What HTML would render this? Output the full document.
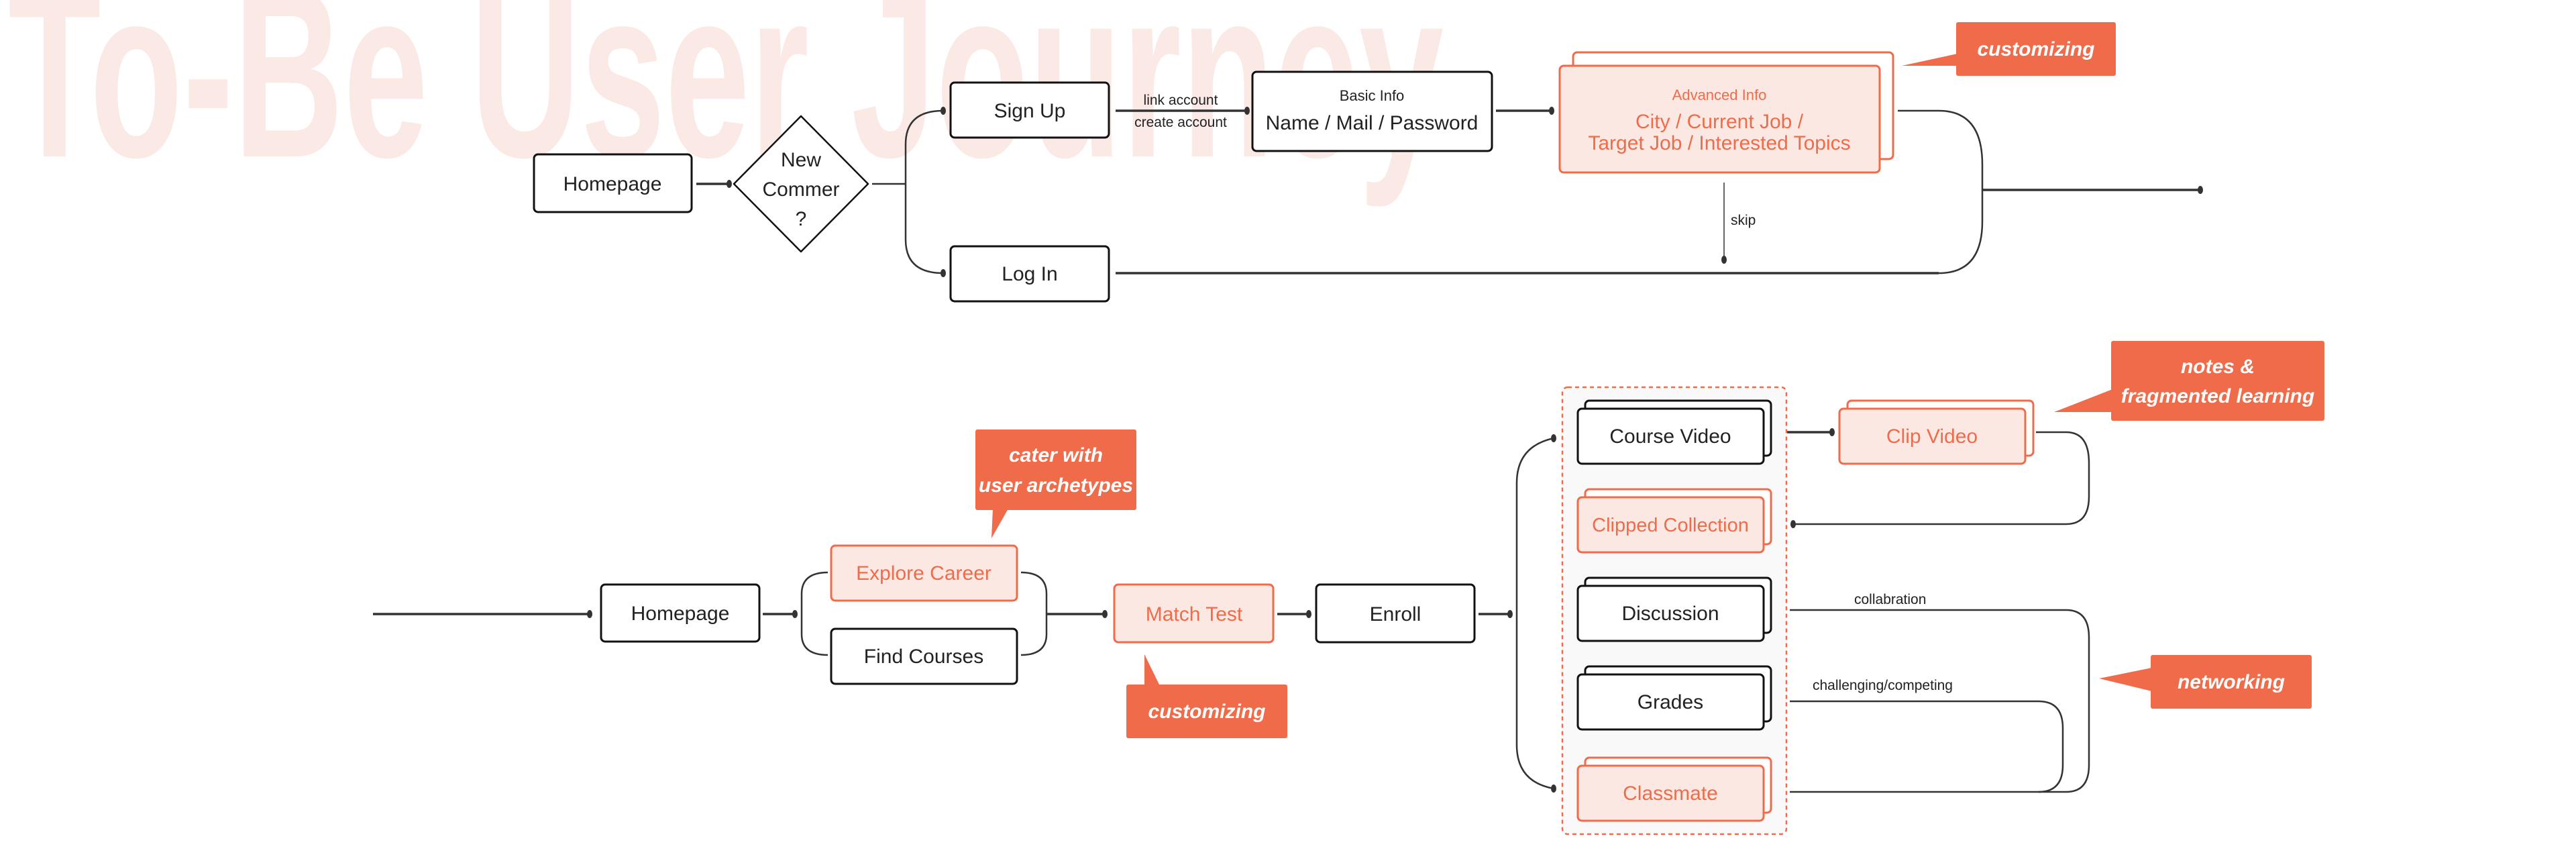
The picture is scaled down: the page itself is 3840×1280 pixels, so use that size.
<!DOCTYPE html>
<html><head><meta charset="utf-8"><style>
html,body{margin:0;padding:0;background:#fff;}
svg{display:block}
text{font-family:"Liberation Sans",sans-serif;}
</style></head><body>
<svg width="3840" height="1280" viewBox="0 0 3840 1280" xmlns="http://www.w3.org/2000/svg">
<text x="12" y="233" font-size="360" font-weight="bold" fill="#fbe9e5" textLength="2140" lengthAdjust="spacingAndGlyphs">To-Be User Journey</text>

<g fill="none" stroke="#333" stroke-width="3.5">
<line x1="1038" y1="274" x2="1087" y2="274"/>
<path d="M1300 274 H1350 M1350 274 V215 Q1350 165 1406 165 M1350 274 V357 Q1350 407 1406 407" stroke-width="2.5"/>
<line x1="1663" y1="165" x2="1859" y2="165"/>
<line x1="2230" y1="165" x2="2313" y2="165"/>
<path d="M2829 165 H2890 Q2955 165 2955 245 V330 Q2955 407 2890 407" stroke-width="2.5"/>
<line x1="1663" y1="407" x2="2890" y2="407"/>
<line x1="2955" y1="283" x2="3280" y2="283"/>
<line x1="2570" y1="272" x2="2570" y2="387" stroke-width="1.5"/>
<line x1="556" y1="915" x2="879" y2="915"/>
<line x1="1137" y1="915" x2="1185" y2="915"/>
<path d="M1195 915 V885 Q1195 853 1234 853 M1195 915 V945 Q1195 976 1234 976" stroke-width="2.5"/>
<path d="M1522 853 Q1560 853 1560 885 V945 Q1560 976 1522 976" stroke-width="2.5"/>
<line x1="1560" y1="915" x2="1647" y2="915"/>
<line x1="1904" y1="915" x2="1951" y2="915"/>
<line x1="2204" y1="915" x2="2251" y2="915"/>
<path d="M2316 653 Q2261 665 2261 720 V1110 Q2261 1165 2316 1175" stroke-width="2.5"/>
<line x1="2664" y1="644" x2="2731" y2="644"/>
<path d="M3035 644 H3080 Q3114 644 3114 690 V740 Q3114 781 3080 781 H2673" stroke-width="2.5"/>
<path d="M2668 909 H3080 Q3114 909 3114 950 V1140 Q3114 1180 3080 1180 H2668" stroke-width="2.5"/>
<path d="M2668 1045 H3039 Q3075 1045 3075 1085 V1140 Q3075 1180 3039 1180" stroke-width="2.5"/>
</g>
<g fill="#333">
<ellipse cx="1087" cy="274" rx="4" ry="6"/>
<ellipse cx="1406" cy="165" rx="4" ry="6"/><ellipse cx="1406" cy="407" rx="4" ry="6"/>
<ellipse cx="1859" cy="165" rx="4" ry="6"/><ellipse cx="2313" cy="165" rx="4" ry="6"/>
<ellipse cx="3280" cy="283" rx="4" ry="6"/><ellipse cx="2570" cy="387" rx="4" ry="6"/>
<ellipse cx="879" cy="915" rx="4" ry="6"/><ellipse cx="1185" cy="915" rx="4" ry="6"/>
<ellipse cx="1647" cy="915" rx="4" ry="6"/><ellipse cx="1951" cy="915" rx="4" ry="6"/>
<ellipse cx="2251" cy="915" rx="4" ry="6"/>
<ellipse cx="2316" cy="653" rx="4" ry="6"/><ellipse cx="2316" cy="1175" rx="4" ry="6"/>
<ellipse cx="2731" cy="644" rx="4" ry="6"/><ellipse cx="2673" cy="781" rx="4" ry="6"/>
</g>

<g fill="#fff" stroke="#111" stroke-width="3">
<rect x="796" y="230" width="235" height="86" rx="6"/>
<path d="M1194 173 L1294 274 L1194 375 L1094 274 Z" stroke-width="2.5" stroke-linejoin="round"/>
<rect x="1417" y="123" width="236" height="82" rx="6"/>
<rect x="1417" y="367" width="236" height="82" rx="6"/>
<rect x="1867" y="107" width="357" height="118" rx="6"/>
</g>
<g fill="#fce8e3" stroke="#f06b4a" stroke-width="3">
<rect x="2345" y="78" width="477" height="159" rx="6" fill="#fff"/>
<rect x="2325" y="98" width="477" height="159" rx="6"/>
</g>
<g font-size="30" fill="#222" text-anchor="middle">
<text x="913" y="284">Homepage</text>
<text x="1194" y="248">New</text><text x="1194" y="292">Commer</text><text x="1194" y="336">?</text>
<text x="1535" y="175">Sign Up</text>
<text x="1535" y="418">Log In</text>
<text x="2045" y="193">Name / Mail / Password</text>
<text x="2045" y="150" font-size="22">Basic Info</text>
<text x="1760" y="156" font-size="21">link account</text>
<text x="1760" y="189" font-size="21">create account</text>
<text x="2580" y="335" font-size="21" text-anchor="start">skip</text>
</g>
<g fill="#f06b4a" text-anchor="middle">
<text x="2563" y="149" font-size="22">Advanced Info</text>
<text x="2563" y="191" font-size="30">City / Current Job /</text>
<text x="2563" y="223" font-size="30">Target Job / Interested Topics</text>
</g>

<g fill="#fff" stroke="#111" stroke-width="3">
<rect x="896" y="871" width="236" height="85" rx="6"/>
<rect x="1239" y="937" width="277" height="82" rx="6"/>
<rect x="1962" y="871" width="236" height="86" rx="6"/>
</g>
<g fill="#fce8e3" stroke="#f06b4a" stroke-width="3">
<rect x="1239" y="813" width="277" height="82" rx="6"/>
<rect x="1661" y="871" width="237" height="86" rx="6"/>
</g>
<rect x="2329" y="577" width="334" height="666" rx="8" fill="#f9f9f9" stroke="#f06b4a" stroke-width="2.5" stroke-dasharray="6 5"/>
<g stroke-width="3">
<g fill="#fff" stroke="#111">
<rect x="2363" y="597" width="277" height="82" rx="6"/><rect x="2352" y="609" width="277" height="82" rx="6"/>
<rect x="2363" y="861" width="277" height="82" rx="6"/><rect x="2352" y="873" width="277" height="82" rx="6"/>
<rect x="2363" y="993" width="277" height="82" rx="6"/><rect x="2352" y="1005" width="277" height="82" rx="6"/>
</g>
<g fill="#fce8e3" stroke="#f06b4a">
<rect x="2363" y="729" width="277" height="82" rx="6" fill="#fff"/><rect x="2352" y="741" width="277" height="82" rx="6"/>
<rect x="2363" y="1129" width="277" height="82" rx="6" fill="#fff"/><rect x="2352" y="1141" width="277" height="82" rx="6"/>
<rect x="2754" y="597" width="277" height="82" rx="6" fill="#fff"/><rect x="2742" y="609" width="277" height="82" rx="6"/>
</g>
</g>
<g font-size="30" fill="#222" text-anchor="middle">
<text x="1014" y="924">Homepage</text>
<text x="1377" y="988">Find Courses</text>
<text x="2080" y="925">Enroll</text>
<text x="2490" y="660">Course Video</text>
<text x="2490" y="924">Discussion</text>
<text x="2490" y="1056">Grades</text>
<text x="2764" y="900" font-size="21" text-anchor="start">collabration</text>
<text x="2702" y="1028" font-size="21" text-anchor="start">challenging/competing</text>
</g>
<g font-size="30" fill="#f06b4a" text-anchor="middle">
<text x="1377" y="864">Explore Career</text>
<text x="1780" y="925">Match Test</text>
<text x="2490" y="792" font-size="29">Clipped Collection</text>
<text x="2490" y="1192">Classmate</text>
<text x="2880" y="660">Clip Video</text>
</g>

<g fill="#f06b4a">
<rect x="2916" y="33" width="238" height="80" rx="3"/><path d="M2918 80 L2835 98 L2918 98 Z"/>
<rect x="1454" y="640" width="240" height="120" rx="3"/><path d="M1480 758 L1478 802 L1503 758 Z"/>
<rect x="1679" y="1020" width="240" height="80" rx="3"/><path d="M1706 1022 L1706 975 L1729 1022 Z"/>
<rect x="3147" y="508" width="318" height="119" rx="3"/><path d="M3149 580 L3062 614 L3149 614 Z"/>
<rect x="3206" y="976" width="240" height="80" rx="3"/><path d="M3208 995 L3129 1011 L3208 1030 Z"/>
</g>
<g fill="#fff" font-size="30" font-weight="bold" font-style="italic" text-anchor="middle">
<text x="3035" y="83">customizing</text>
<text x="1574" y="688">cater with</text><text x="1574" y="733">user archetypes</text>
<text x="1799" y="1070">customizing</text>
<text x="3306" y="556">notes &amp;</text><text x="3306" y="600">fragmented learning</text>
<text x="3326" y="1026">networking</text>
</g>
</svg>
</body></html>
